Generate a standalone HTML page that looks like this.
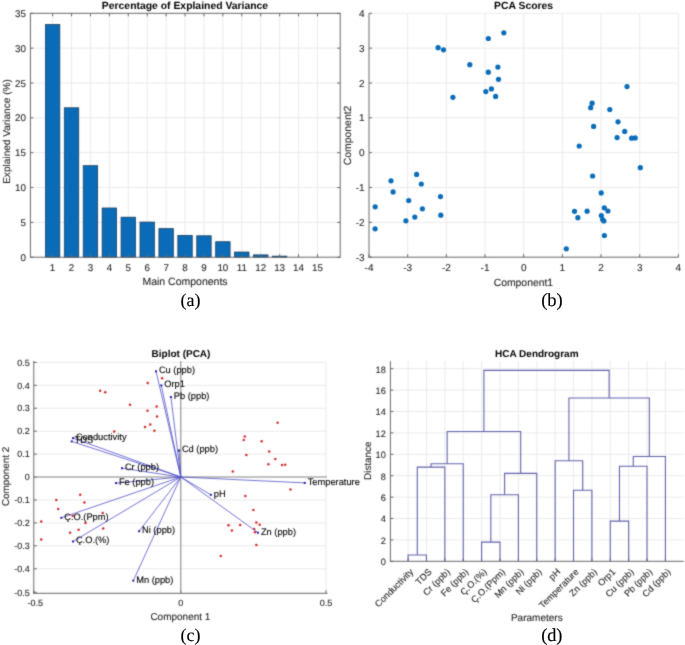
<!DOCTYPE html>
<html><head><meta charset="utf-8"><title>PCA / HCA figure</title>
<style>
html,body{margin:0;padding:0;background:#fff;}
body{width:685px;height:645px;overflow:hidden;font-family:"Liberation Sans", sans-serif;}
svg{display:block;will-change:transform;}
text{text-rendering:geometricPrecision;}
</style></head>
<body>
<svg width="685" height="645" viewBox="0 0 685 645">
<defs><filter id="soft" x="0" y="0" width="100%" height="100%" filterUnits="userSpaceOnUse" color-interpolation-filters="sRGB"><feConvolveMatrix order="3" kernelMatrix="1 3 1 3 16 3 1 3 1" edgeMode="duplicate" preserveAlpha="true"/></filter></defs>
<g filter="url(#soft)">
<rect width="685" height="645" fill="#fff"/>
<g id="pa">
<line x1="52.60" y1="13.30" x2="52.60" y2="257.20" stroke="#ebebeb" stroke-width="1"/>
<line x1="71.52" y1="13.30" x2="71.52" y2="257.20" stroke="#ebebeb" stroke-width="1"/>
<line x1="90.44" y1="13.30" x2="90.44" y2="257.20" stroke="#ebebeb" stroke-width="1"/>
<line x1="109.36" y1="13.30" x2="109.36" y2="257.20" stroke="#ebebeb" stroke-width="1"/>
<line x1="128.28" y1="13.30" x2="128.28" y2="257.20" stroke="#ebebeb" stroke-width="1"/>
<line x1="147.20" y1="13.30" x2="147.20" y2="257.20" stroke="#ebebeb" stroke-width="1"/>
<line x1="166.12" y1="13.30" x2="166.12" y2="257.20" stroke="#ebebeb" stroke-width="1"/>
<line x1="185.04" y1="13.30" x2="185.04" y2="257.20" stroke="#ebebeb" stroke-width="1"/>
<line x1="203.96" y1="13.30" x2="203.96" y2="257.20" stroke="#ebebeb" stroke-width="1"/>
<line x1="222.88" y1="13.30" x2="222.88" y2="257.20" stroke="#ebebeb" stroke-width="1"/>
<line x1="241.80" y1="13.30" x2="241.80" y2="257.20" stroke="#ebebeb" stroke-width="1"/>
<line x1="260.72" y1="13.30" x2="260.72" y2="257.20" stroke="#ebebeb" stroke-width="1"/>
<line x1="279.64" y1="13.30" x2="279.64" y2="257.20" stroke="#ebebeb" stroke-width="1"/>
<line x1="298.56" y1="13.30" x2="298.56" y2="257.20" stroke="#ebebeb" stroke-width="1"/>
<line x1="317.48" y1="13.30" x2="317.48" y2="257.20" stroke="#ebebeb" stroke-width="1"/>
<line x1="30.40" y1="222.36" x2="340.20" y2="222.36" stroke="#ebebeb" stroke-width="1"/>
<line x1="30.40" y1="187.52" x2="340.20" y2="187.52" stroke="#ebebeb" stroke-width="1"/>
<line x1="30.40" y1="152.68" x2="340.20" y2="152.68" stroke="#ebebeb" stroke-width="1"/>
<line x1="30.40" y1="117.84" x2="340.20" y2="117.84" stroke="#ebebeb" stroke-width="1"/>
<line x1="30.40" y1="83.00" x2="340.20" y2="83.00" stroke="#ebebeb" stroke-width="1"/>
<line x1="30.40" y1="48.16" x2="340.20" y2="48.16" stroke="#ebebeb" stroke-width="1"/>
<rect x="45.40" y="24.47" width="14.40" height="232.73" fill="#0a6cb8" stroke="#1d3d5c" stroke-width="0.8"/>
<rect x="64.32" y="107.81" width="14.40" height="149.39" fill="#0a6cb8" stroke="#1d3d5c" stroke-width="0.8"/>
<rect x="83.24" y="165.71" width="14.40" height="91.49" fill="#0a6cb8" stroke="#1d3d5c" stroke-width="0.8"/>
<rect x="102.16" y="208.01" width="14.40" height="49.19" fill="#0a6cb8" stroke="#1d3d5c" stroke-width="0.8"/>
<rect x="121.08" y="217.20" width="14.40" height="40.00" fill="#0a6cb8" stroke="#1d3d5c" stroke-width="0.8"/>
<rect x="140.00" y="222.08" width="14.40" height="35.12" fill="#0a6cb8" stroke="#1d3d5c" stroke-width="0.8"/>
<rect x="158.92" y="228.63" width="14.40" height="28.57" fill="#0a6cb8" stroke="#1d3d5c" stroke-width="0.8"/>
<rect x="177.84" y="235.39" width="14.40" height="21.81" fill="#0a6cb8" stroke="#1d3d5c" stroke-width="0.8"/>
<rect x="196.76" y="235.81" width="14.40" height="21.39" fill="#0a6cb8" stroke="#1d3d5c" stroke-width="0.8"/>
<rect x="215.68" y="241.73" width="14.40" height="15.47" fill="#0a6cb8" stroke="#1d3d5c" stroke-width="0.8"/>
<rect x="234.60" y="252.04" width="14.40" height="5.16" fill="#0a6cb8" stroke="#1d3d5c" stroke-width="0.8"/>
<rect x="253.52" y="254.90" width="14.40" height="2.30" fill="#0a6cb8" stroke="#1d3d5c" stroke-width="0.8"/>
<rect x="272.44" y="256.15" width="14.40" height="1.05" fill="#0a6cb8" stroke="#1d3d5c" stroke-width="0.8"/>
<rect x="30.4" y="13.3" width="309.80" height="243.90" fill="none" stroke="#686868" stroke-width="1"/>
<line x1="52.60" y1="257.20" x2="52.60" y2="254.20" stroke="#686868" stroke-width="1"/>
<line x1="52.60" y1="13.30" x2="52.60" y2="16.30" stroke="#686868" stroke-width="1"/>
<text x="52.60" y="271.41" font-size="9.8" fill="#262626" stroke="#262626" stroke-width="0.1" text-anchor="middle" font-weight="normal" font-family='"Liberation Sans", sans-serif'>1</text>
<line x1="71.52" y1="257.20" x2="71.52" y2="254.20" stroke="#686868" stroke-width="1"/>
<line x1="71.52" y1="13.30" x2="71.52" y2="16.30" stroke="#686868" stroke-width="1"/>
<text x="71.52" y="271.41" font-size="9.8" fill="#262626" stroke="#262626" stroke-width="0.1" text-anchor="middle" font-weight="normal" font-family='"Liberation Sans", sans-serif'>2</text>
<line x1="90.44" y1="257.20" x2="90.44" y2="254.20" stroke="#686868" stroke-width="1"/>
<line x1="90.44" y1="13.30" x2="90.44" y2="16.30" stroke="#686868" stroke-width="1"/>
<text x="90.44" y="271.41" font-size="9.8" fill="#262626" stroke="#262626" stroke-width="0.1" text-anchor="middle" font-weight="normal" font-family='"Liberation Sans", sans-serif'>3</text>
<line x1="109.36" y1="257.20" x2="109.36" y2="254.20" stroke="#686868" stroke-width="1"/>
<line x1="109.36" y1="13.30" x2="109.36" y2="16.30" stroke="#686868" stroke-width="1"/>
<text x="109.36" y="271.41" font-size="9.8" fill="#262626" stroke="#262626" stroke-width="0.1" text-anchor="middle" font-weight="normal" font-family='"Liberation Sans", sans-serif'>4</text>
<line x1="128.28" y1="257.20" x2="128.28" y2="254.20" stroke="#686868" stroke-width="1"/>
<line x1="128.28" y1="13.30" x2="128.28" y2="16.30" stroke="#686868" stroke-width="1"/>
<text x="128.28" y="271.41" font-size="9.8" fill="#262626" stroke="#262626" stroke-width="0.1" text-anchor="middle" font-weight="normal" font-family='"Liberation Sans", sans-serif'>5</text>
<line x1="147.20" y1="257.20" x2="147.20" y2="254.20" stroke="#686868" stroke-width="1"/>
<line x1="147.20" y1="13.30" x2="147.20" y2="16.30" stroke="#686868" stroke-width="1"/>
<text x="147.20" y="271.41" font-size="9.8" fill="#262626" stroke="#262626" stroke-width="0.1" text-anchor="middle" font-weight="normal" font-family='"Liberation Sans", sans-serif'>6</text>
<line x1="166.12" y1="257.20" x2="166.12" y2="254.20" stroke="#686868" stroke-width="1"/>
<line x1="166.12" y1="13.30" x2="166.12" y2="16.30" stroke="#686868" stroke-width="1"/>
<text x="166.12" y="271.41" font-size="9.8" fill="#262626" stroke="#262626" stroke-width="0.1" text-anchor="middle" font-weight="normal" font-family='"Liberation Sans", sans-serif'>7</text>
<line x1="185.04" y1="257.20" x2="185.04" y2="254.20" stroke="#686868" stroke-width="1"/>
<line x1="185.04" y1="13.30" x2="185.04" y2="16.30" stroke="#686868" stroke-width="1"/>
<text x="185.04" y="271.41" font-size="9.8" fill="#262626" stroke="#262626" stroke-width="0.1" text-anchor="middle" font-weight="normal" font-family='"Liberation Sans", sans-serif'>8</text>
<line x1="203.96" y1="257.20" x2="203.96" y2="254.20" stroke="#686868" stroke-width="1"/>
<line x1="203.96" y1="13.30" x2="203.96" y2="16.30" stroke="#686868" stroke-width="1"/>
<text x="203.96" y="271.41" font-size="9.8" fill="#262626" stroke="#262626" stroke-width="0.1" text-anchor="middle" font-weight="normal" font-family='"Liberation Sans", sans-serif'>9</text>
<line x1="222.88" y1="257.20" x2="222.88" y2="254.20" stroke="#686868" stroke-width="1"/>
<line x1="222.88" y1="13.30" x2="222.88" y2="16.30" stroke="#686868" stroke-width="1"/>
<text x="222.88" y="271.41" font-size="9.8" fill="#262626" stroke="#262626" stroke-width="0.1" text-anchor="middle" font-weight="normal" font-family='"Liberation Sans", sans-serif'>10</text>
<line x1="241.80" y1="257.20" x2="241.80" y2="254.20" stroke="#686868" stroke-width="1"/>
<line x1="241.80" y1="13.30" x2="241.80" y2="16.30" stroke="#686868" stroke-width="1"/>
<text x="241.80" y="271.41" font-size="9.8" fill="#262626" stroke="#262626" stroke-width="0.1" text-anchor="middle" font-weight="normal" font-family='"Liberation Sans", sans-serif'>11</text>
<line x1="260.72" y1="257.20" x2="260.72" y2="254.20" stroke="#686868" stroke-width="1"/>
<line x1="260.72" y1="13.30" x2="260.72" y2="16.30" stroke="#686868" stroke-width="1"/>
<text x="260.72" y="271.41" font-size="9.8" fill="#262626" stroke="#262626" stroke-width="0.1" text-anchor="middle" font-weight="normal" font-family='"Liberation Sans", sans-serif'>12</text>
<line x1="279.64" y1="257.20" x2="279.64" y2="254.20" stroke="#686868" stroke-width="1"/>
<line x1="279.64" y1="13.30" x2="279.64" y2="16.30" stroke="#686868" stroke-width="1"/>
<text x="279.64" y="271.41" font-size="9.8" fill="#262626" stroke="#262626" stroke-width="0.1" text-anchor="middle" font-weight="normal" font-family='"Liberation Sans", sans-serif'>13</text>
<line x1="298.56" y1="257.20" x2="298.56" y2="254.20" stroke="#686868" stroke-width="1"/>
<line x1="298.56" y1="13.30" x2="298.56" y2="16.30" stroke="#686868" stroke-width="1"/>
<text x="298.56" y="271.41" font-size="9.8" fill="#262626" stroke="#262626" stroke-width="0.1" text-anchor="middle" font-weight="normal" font-family='"Liberation Sans", sans-serif'>14</text>
<line x1="317.48" y1="257.20" x2="317.48" y2="254.20" stroke="#686868" stroke-width="1"/>
<line x1="317.48" y1="13.30" x2="317.48" y2="16.30" stroke="#686868" stroke-width="1"/>
<text x="317.48" y="271.41" font-size="9.8" fill="#262626" stroke="#262626" stroke-width="0.1" text-anchor="middle" font-weight="normal" font-family='"Liberation Sans", sans-serif'>15</text>
<line x1="30.40" y1="257.20" x2="33.40" y2="257.20" stroke="#686868" stroke-width="1"/>
<line x1="340.20" y1="257.20" x2="337.20" y2="257.20" stroke="#686868" stroke-width="1"/>
<text x="26.00" y="260.71" font-size="9.8" fill="#262626" stroke="#262626" stroke-width="0.1" text-anchor="end" font-weight="normal" font-family='"Liberation Sans", sans-serif'>0</text>
<line x1="30.40" y1="222.36" x2="33.40" y2="222.36" stroke="#686868" stroke-width="1"/>
<line x1="340.20" y1="222.36" x2="337.20" y2="222.36" stroke="#686868" stroke-width="1"/>
<text x="26.00" y="225.87" font-size="9.8" fill="#262626" stroke="#262626" stroke-width="0.1" text-anchor="end" font-weight="normal" font-family='"Liberation Sans", sans-serif'>5</text>
<line x1="30.40" y1="187.52" x2="33.40" y2="187.52" stroke="#686868" stroke-width="1"/>
<line x1="340.20" y1="187.52" x2="337.20" y2="187.52" stroke="#686868" stroke-width="1"/>
<text x="26.00" y="191.03" font-size="9.8" fill="#262626" stroke="#262626" stroke-width="0.1" text-anchor="end" font-weight="normal" font-family='"Liberation Sans", sans-serif'>10</text>
<line x1="30.40" y1="152.68" x2="33.40" y2="152.68" stroke="#686868" stroke-width="1"/>
<line x1="340.20" y1="152.68" x2="337.20" y2="152.68" stroke="#686868" stroke-width="1"/>
<text x="26.00" y="156.19" font-size="9.8" fill="#262626" stroke="#262626" stroke-width="0.1" text-anchor="end" font-weight="normal" font-family='"Liberation Sans", sans-serif'>15</text>
<line x1="30.40" y1="117.84" x2="33.40" y2="117.84" stroke="#686868" stroke-width="1"/>
<line x1="340.20" y1="117.84" x2="337.20" y2="117.84" stroke="#686868" stroke-width="1"/>
<text x="26.00" y="121.35" font-size="9.8" fill="#262626" stroke="#262626" stroke-width="0.1" text-anchor="end" font-weight="normal" font-family='"Liberation Sans", sans-serif'>20</text>
<line x1="30.40" y1="83.00" x2="33.40" y2="83.00" stroke="#686868" stroke-width="1"/>
<line x1="340.20" y1="83.00" x2="337.20" y2="83.00" stroke="#686868" stroke-width="1"/>
<text x="26.00" y="86.51" font-size="9.8" fill="#262626" stroke="#262626" stroke-width="0.1" text-anchor="end" font-weight="normal" font-family='"Liberation Sans", sans-serif'>25</text>
<line x1="30.40" y1="48.16" x2="33.40" y2="48.16" stroke="#686868" stroke-width="1"/>
<line x1="340.20" y1="48.16" x2="337.20" y2="48.16" stroke="#686868" stroke-width="1"/>
<text x="26.00" y="51.67" font-size="9.8" fill="#262626" stroke="#262626" stroke-width="0.1" text-anchor="end" font-weight="normal" font-family='"Liberation Sans", sans-serif'>30</text>
<line x1="30.40" y1="13.32" x2="33.40" y2="13.32" stroke="#686868" stroke-width="1"/>
<line x1="340.20" y1="13.32" x2="337.20" y2="13.32" stroke="#686868" stroke-width="1"/>
<text x="26.00" y="16.83" font-size="9.8" fill="#262626" stroke="#262626" stroke-width="0.1" text-anchor="end" font-weight="normal" font-family='"Liberation Sans", sans-serif'>35</text>
<text x="185.00" y="8.80" font-size="10.4" fill="#000" text-anchor="middle" font-weight="bold" font-family='"Liberation Sans", sans-serif'>Percentage of Explained Variance</text>
<text x="185.00" y="285.40" font-size="10.5" fill="#262626" stroke="#262626" stroke-width="0.1" text-anchor="middle" font-weight="normal" font-family='"Liberation Sans", sans-serif'>Main Components</text>
<text x="10.00" y="131.50" font-size="10.1" fill="#262626" stroke="#262626" stroke-width="0.1" text-anchor="middle" font-weight="normal" font-family='"Liberation Sans", sans-serif' transform="rotate(-90 10 131.5)">Explained Variance (%)</text>
</g>
<g id="pb">
<line x1="407.68" y1="13.30" x2="407.68" y2="257.20" stroke="#ebebeb" stroke-width="1"/>
<line x1="446.35" y1="13.30" x2="446.35" y2="257.20" stroke="#ebebeb" stroke-width="1"/>
<line x1="485.02" y1="13.30" x2="485.02" y2="257.20" stroke="#ebebeb" stroke-width="1"/>
<line x1="523.70" y1="13.30" x2="523.70" y2="257.20" stroke="#ebebeb" stroke-width="1"/>
<line x1="562.38" y1="13.30" x2="562.38" y2="257.20" stroke="#ebebeb" stroke-width="1"/>
<line x1="601.05" y1="13.30" x2="601.05" y2="257.20" stroke="#ebebeb" stroke-width="1"/>
<line x1="639.72" y1="13.30" x2="639.72" y2="257.20" stroke="#ebebeb" stroke-width="1"/>
<line x1="678.40" y1="13.30" x2="678.40" y2="257.20" stroke="#ebebeb" stroke-width="1"/>
<line x1="369.00" y1="222.36" x2="678.40" y2="222.36" stroke="#ebebeb" stroke-width="1"/>
<line x1="369.00" y1="187.51" x2="678.40" y2="187.51" stroke="#ebebeb" stroke-width="1"/>
<line x1="369.00" y1="152.67" x2="678.40" y2="152.67" stroke="#ebebeb" stroke-width="1"/>
<line x1="369.00" y1="117.83" x2="678.40" y2="117.83" stroke="#ebebeb" stroke-width="1"/>
<line x1="369.00" y1="82.99" x2="678.40" y2="82.99" stroke="#ebebeb" stroke-width="1"/>
<line x1="369.00" y1="48.14" x2="678.40" y2="48.14" stroke="#ebebeb" stroke-width="1"/>
<line x1="369.00" y1="13.30" x2="678.40" y2="13.30" stroke="#ebebeb" stroke-width="1"/>
<line x1="369.00" y1="13.30" x2="369.00" y2="257.70" stroke="#686868" stroke-width="1"/>
<line x1="368.50" y1="257.20" x2="678.40" y2="257.20" stroke="#686868" stroke-width="1"/>
<line x1="369.00" y1="257.20" x2="369.00" y2="254.20" stroke="#686868" stroke-width="1"/>
<text x="369.00" y="271.18" font-size="10.0" fill="#262626" stroke="#262626" stroke-width="0.1" text-anchor="middle" font-weight="normal" font-family='"Liberation Sans", sans-serif'>-4</text>
<line x1="407.68" y1="257.20" x2="407.68" y2="254.20" stroke="#686868" stroke-width="1"/>
<text x="407.68" y="271.18" font-size="10.0" fill="#262626" stroke="#262626" stroke-width="0.1" text-anchor="middle" font-weight="normal" font-family='"Liberation Sans", sans-serif'>-3</text>
<line x1="446.35" y1="257.20" x2="446.35" y2="254.20" stroke="#686868" stroke-width="1"/>
<text x="446.35" y="271.18" font-size="10.0" fill="#262626" stroke="#262626" stroke-width="0.1" text-anchor="middle" font-weight="normal" font-family='"Liberation Sans", sans-serif'>-2</text>
<line x1="485.02" y1="257.20" x2="485.02" y2="254.20" stroke="#686868" stroke-width="1"/>
<text x="485.02" y="271.18" font-size="10.0" fill="#262626" stroke="#262626" stroke-width="0.1" text-anchor="middle" font-weight="normal" font-family='"Liberation Sans", sans-serif'>-1</text>
<line x1="523.70" y1="257.20" x2="523.70" y2="254.20" stroke="#686868" stroke-width="1"/>
<text x="523.70" y="271.18" font-size="10.0" fill="#262626" stroke="#262626" stroke-width="0.1" text-anchor="middle" font-weight="normal" font-family='"Liberation Sans", sans-serif'>0</text>
<line x1="562.38" y1="257.20" x2="562.38" y2="254.20" stroke="#686868" stroke-width="1"/>
<text x="562.38" y="271.18" font-size="10.0" fill="#262626" stroke="#262626" stroke-width="0.1" text-anchor="middle" font-weight="normal" font-family='"Liberation Sans", sans-serif'>1</text>
<line x1="601.05" y1="257.20" x2="601.05" y2="254.20" stroke="#686868" stroke-width="1"/>
<text x="601.05" y="271.18" font-size="10.0" fill="#262626" stroke="#262626" stroke-width="0.1" text-anchor="middle" font-weight="normal" font-family='"Liberation Sans", sans-serif'>2</text>
<line x1="639.72" y1="257.20" x2="639.72" y2="254.20" stroke="#686868" stroke-width="1"/>
<text x="639.72" y="271.18" font-size="10.0" fill="#262626" stroke="#262626" stroke-width="0.1" text-anchor="middle" font-weight="normal" font-family='"Liberation Sans", sans-serif'>3</text>
<line x1="678.40" y1="257.20" x2="678.40" y2="254.20" stroke="#686868" stroke-width="1"/>
<text x="678.40" y="271.18" font-size="10.0" fill="#262626" stroke="#262626" stroke-width="0.1" text-anchor="middle" font-weight="normal" font-family='"Liberation Sans", sans-serif'>4</text>
<line x1="369.00" y1="257.20" x2="372.00" y2="257.20" stroke="#686868" stroke-width="1"/>
<text x="364.60" y="260.78" font-size="10.0" fill="#262626" stroke="#262626" stroke-width="0.1" text-anchor="end" font-weight="normal" font-family='"Liberation Sans", sans-serif'>-3</text>
<line x1="369.00" y1="222.36" x2="372.00" y2="222.36" stroke="#686868" stroke-width="1"/>
<text x="364.60" y="225.94" font-size="10.0" fill="#262626" stroke="#262626" stroke-width="0.1" text-anchor="end" font-weight="normal" font-family='"Liberation Sans", sans-serif'>-2</text>
<line x1="369.00" y1="187.51" x2="372.00" y2="187.51" stroke="#686868" stroke-width="1"/>
<text x="364.60" y="191.09" font-size="10.0" fill="#262626" stroke="#262626" stroke-width="0.1" text-anchor="end" font-weight="normal" font-family='"Liberation Sans", sans-serif'>-1</text>
<line x1="369.00" y1="152.67" x2="372.00" y2="152.67" stroke="#686868" stroke-width="1"/>
<text x="364.60" y="156.25" font-size="10.0" fill="#262626" stroke="#262626" stroke-width="0.1" text-anchor="end" font-weight="normal" font-family='"Liberation Sans", sans-serif'>0</text>
<line x1="369.00" y1="117.83" x2="372.00" y2="117.83" stroke="#686868" stroke-width="1"/>
<text x="364.60" y="121.41" font-size="10.0" fill="#262626" stroke="#262626" stroke-width="0.1" text-anchor="end" font-weight="normal" font-family='"Liberation Sans", sans-serif'>1</text>
<line x1="369.00" y1="82.99" x2="372.00" y2="82.99" stroke="#686868" stroke-width="1"/>
<text x="364.60" y="86.57" font-size="10.0" fill="#262626" stroke="#262626" stroke-width="0.1" text-anchor="end" font-weight="normal" font-family='"Liberation Sans", sans-serif'>2</text>
<line x1="369.00" y1="48.14" x2="372.00" y2="48.14" stroke="#686868" stroke-width="1"/>
<text x="364.60" y="51.72" font-size="10.0" fill="#262626" stroke="#262626" stroke-width="0.1" text-anchor="end" font-weight="normal" font-family='"Liberation Sans", sans-serif'>3</text>
<line x1="369.00" y1="13.30" x2="372.00" y2="13.30" stroke="#686868" stroke-width="1"/>
<text x="364.60" y="16.88" font-size="10.0" fill="#262626" stroke="#262626" stroke-width="0.1" text-anchor="end" font-weight="normal" font-family='"Liberation Sans", sans-serif'>4</text>
<circle cx="438.1" cy="47.7" r="2.6" fill="#0a6cb8"/>
<circle cx="443.5" cy="49.8" r="2.6" fill="#0a6cb8"/>
<circle cx="488.3" cy="38.5" r="2.6" fill="#0a6cb8"/>
<circle cx="503.8" cy="32.8" r="2.6" fill="#0a6cb8"/>
<circle cx="469.8" cy="64.7" r="2.6" fill="#0a6cb8"/>
<circle cx="497.9" cy="67.1" r="2.6" fill="#0a6cb8"/>
<circle cx="488.3" cy="72.2" r="2.6" fill="#0a6cb8"/>
<circle cx="498.5" cy="79.3" r="2.6" fill="#0a6cb8"/>
<circle cx="491.4" cy="88.9" r="2.6" fill="#0a6cb8"/>
<circle cx="485.8" cy="91.6" r="2.6" fill="#0a6cb8"/>
<circle cx="495.6" cy="96.4" r="2.6" fill="#0a6cb8"/>
<circle cx="452.9" cy="97.3" r="2.6" fill="#0a6cb8"/>
<circle cx="416.6" cy="174.4" r="2.6" fill="#0a6cb8"/>
<circle cx="391.0" cy="180.8" r="2.6" fill="#0a6cb8"/>
<circle cx="421.3" cy="184.0" r="2.6" fill="#0a6cb8"/>
<circle cx="393.1" cy="191.9" r="2.6" fill="#0a6cb8"/>
<circle cx="440.5" cy="196.6" r="2.6" fill="#0a6cb8"/>
<circle cx="408.7" cy="200.5" r="2.6" fill="#0a6cb8"/>
<circle cx="375.2" cy="206.8" r="2.6" fill="#0a6cb8"/>
<circle cx="422.4" cy="208.8" r="2.6" fill="#0a6cb8"/>
<circle cx="440.8" cy="215.2" r="2.6" fill="#0a6cb8"/>
<circle cx="414.8" cy="217.1" r="2.6" fill="#0a6cb8"/>
<circle cx="405.9" cy="220.8" r="2.6" fill="#0a6cb8"/>
<circle cx="375.1" cy="228.8" r="2.6" fill="#0a6cb8"/>
<circle cx="627.0" cy="86.6" r="2.6" fill="#0a6cb8"/>
<circle cx="592.1" cy="103.2" r="2.6" fill="#0a6cb8"/>
<circle cx="590.7" cy="107.7" r="2.6" fill="#0a6cb8"/>
<circle cx="609.8" cy="109.5" r="2.6" fill="#0a6cb8"/>
<circle cx="618.0" cy="121.8" r="2.6" fill="#0a6cb8"/>
<circle cx="593.6" cy="126.4" r="2.6" fill="#0a6cb8"/>
<circle cx="624.7" cy="131.4" r="2.6" fill="#0a6cb8"/>
<circle cx="617.1" cy="137.6" r="2.6" fill="#0a6cb8"/>
<circle cx="631.6" cy="138.2" r="2.6" fill="#0a6cb8"/>
<circle cx="635.2" cy="137.9" r="2.6" fill="#0a6cb8"/>
<circle cx="579.2" cy="146.0" r="2.6" fill="#0a6cb8"/>
<circle cx="640.3" cy="167.7" r="2.6" fill="#0a6cb8"/>
<circle cx="592.6" cy="176.0" r="2.6" fill="#0a6cb8"/>
<circle cx="601.2" cy="192.9" r="2.6" fill="#0a6cb8"/>
<circle cx="604.3" cy="207.8" r="2.6" fill="#0a6cb8"/>
<circle cx="607.9" cy="211.0" r="2.6" fill="#0a6cb8"/>
<circle cx="574.5" cy="211.3" r="2.6" fill="#0a6cb8"/>
<circle cx="587.1" cy="211.2" r="2.6" fill="#0a6cb8"/>
<circle cx="601.3" cy="215.5" r="2.6" fill="#0a6cb8"/>
<circle cx="577.9" cy="217.7" r="2.6" fill="#0a6cb8"/>
<circle cx="602.6" cy="219.5" r="2.6" fill="#0a6cb8"/>
<circle cx="603.9" cy="221.0" r="2.6" fill="#0a6cb8"/>
<circle cx="604.4" cy="235.5" r="2.6" fill="#0a6cb8"/>
<circle cx="566.3" cy="248.8" r="2.6" fill="#0a6cb8"/>
<text x="523.60" y="8.80" font-size="10.4" fill="#000" text-anchor="middle" font-weight="bold" font-family='"Liberation Sans", sans-serif'>PCA Scores</text>
<text x="523.40" y="285.60" font-size="10.4" fill="#262626" stroke="#262626" stroke-width="0.1" text-anchor="middle" font-weight="normal" font-family='"Liberation Sans", sans-serif'>Component1</text>
<text x="351.20" y="135.40" font-size="10.4" fill="#262626" stroke="#262626" stroke-width="0.1" text-anchor="middle" font-weight="normal" font-family='"Liberation Sans", sans-serif' transform="rotate(-90 351.2 135.4)">Component2</text>
</g>
<g id="pc">
<line x1="33.80" y1="568.77" x2="326.00" y2="568.77" stroke="#ebebeb" stroke-width="1"/>
<line x1="33.80" y1="545.84" x2="326.00" y2="545.84" stroke="#ebebeb" stroke-width="1"/>
<line x1="33.80" y1="522.91" x2="326.00" y2="522.91" stroke="#ebebeb" stroke-width="1"/>
<line x1="33.80" y1="499.98" x2="326.00" y2="499.98" stroke="#ebebeb" stroke-width="1"/>
<line x1="33.80" y1="477.05" x2="326.00" y2="477.05" stroke="#ebebeb" stroke-width="1"/>
<line x1="33.80" y1="454.12" x2="326.00" y2="454.12" stroke="#ebebeb" stroke-width="1"/>
<line x1="33.80" y1="431.19" x2="326.00" y2="431.19" stroke="#ebebeb" stroke-width="1"/>
<line x1="33.80" y1="408.26" x2="326.00" y2="408.26" stroke="#ebebeb" stroke-width="1"/>
<line x1="33.80" y1="385.33" x2="326.00" y2="385.33" stroke="#ebebeb" stroke-width="1"/>
<line x1="33.80" y1="362.40" x2="326.00" y2="362.40" stroke="#ebebeb" stroke-width="1"/>
<line x1="326.00" y1="362.40" x2="326.00" y2="593.30" stroke="#ebebeb" stroke-width="1"/>
<line x1="33.80" y1="360.90" x2="33.80" y2="593.80" stroke="#686868" stroke-width="1"/>
<line x1="33.30" y1="593.30" x2="327.50" y2="593.30" stroke="#686868" stroke-width="1"/>
<line x1="33.80" y1="592.30" x2="36.80" y2="592.30" stroke="#686868" stroke-width="1"/>
<text x="29.70" y="595.52" font-size="9.0" fill="#262626" stroke="#262626" stroke-width="0.1" text-anchor="end" font-weight="normal" font-family='"Liberation Sans", sans-serif'>-0.5</text>
<line x1="33.80" y1="568.77" x2="36.80" y2="568.77" stroke="#686868" stroke-width="1"/>
<text x="29.70" y="571.99" font-size="9.0" fill="#262626" stroke="#262626" stroke-width="0.1" text-anchor="end" font-weight="normal" font-family='"Liberation Sans", sans-serif'>-0.4</text>
<line x1="33.80" y1="545.84" x2="36.80" y2="545.84" stroke="#686868" stroke-width="1"/>
<text x="29.70" y="549.06" font-size="9.0" fill="#262626" stroke="#262626" stroke-width="0.1" text-anchor="end" font-weight="normal" font-family='"Liberation Sans", sans-serif'>-0.3</text>
<line x1="33.80" y1="522.91" x2="36.80" y2="522.91" stroke="#686868" stroke-width="1"/>
<text x="29.70" y="526.13" font-size="9.0" fill="#262626" stroke="#262626" stroke-width="0.1" text-anchor="end" font-weight="normal" font-family='"Liberation Sans", sans-serif'>-0.2</text>
<line x1="33.80" y1="499.98" x2="36.80" y2="499.98" stroke="#686868" stroke-width="1"/>
<text x="29.70" y="503.20" font-size="9.0" fill="#262626" stroke="#262626" stroke-width="0.1" text-anchor="end" font-weight="normal" font-family='"Liberation Sans", sans-serif'>-0.1</text>
<line x1="33.80" y1="477.05" x2="36.80" y2="477.05" stroke="#686868" stroke-width="1"/>
<text x="29.70" y="480.27" font-size="9.0" fill="#262626" stroke="#262626" stroke-width="0.1" text-anchor="end" font-weight="normal" font-family='"Liberation Sans", sans-serif'>0</text>
<line x1="33.80" y1="454.12" x2="36.80" y2="454.12" stroke="#686868" stroke-width="1"/>
<text x="29.70" y="457.34" font-size="9.0" fill="#262626" stroke="#262626" stroke-width="0.1" text-anchor="end" font-weight="normal" font-family='"Liberation Sans", sans-serif'>0.1</text>
<line x1="33.80" y1="431.19" x2="36.80" y2="431.19" stroke="#686868" stroke-width="1"/>
<text x="29.70" y="434.41" font-size="9.0" fill="#262626" stroke="#262626" stroke-width="0.1" text-anchor="end" font-weight="normal" font-family='"Liberation Sans", sans-serif'>0.2</text>
<line x1="33.80" y1="408.26" x2="36.80" y2="408.26" stroke="#686868" stroke-width="1"/>
<text x="29.70" y="411.48" font-size="9.0" fill="#262626" stroke="#262626" stroke-width="0.1" text-anchor="end" font-weight="normal" font-family='"Liberation Sans", sans-serif'>0.3</text>
<line x1="33.80" y1="385.33" x2="36.80" y2="385.33" stroke="#686868" stroke-width="1"/>
<text x="29.70" y="388.55" font-size="9.0" fill="#262626" stroke="#262626" stroke-width="0.1" text-anchor="end" font-weight="normal" font-family='"Liberation Sans", sans-serif'>0.4</text>
<line x1="33.80" y1="362.40" x2="36.80" y2="362.40" stroke="#686868" stroke-width="1"/>
<text x="29.70" y="365.62" font-size="9.0" fill="#262626" stroke="#262626" stroke-width="0.1" text-anchor="end" font-weight="normal" font-family='"Liberation Sans", sans-serif'>0.5</text>
<line x1="33.80" y1="593.30" x2="33.80" y2="590.30" stroke="#686868" stroke-width="1"/>
<text x="35.30" y="606.02" font-size="9.0" fill="#262626" stroke="#262626" stroke-width="0.1" text-anchor="middle" font-weight="normal" font-family='"Liberation Sans", sans-serif'>-0.5</text>
<line x1="180.80" y1="593.30" x2="180.80" y2="590.30" stroke="#686868" stroke-width="1"/>
<text x="180.80" y="606.02" font-size="9.0" fill="#262626" stroke="#262626" stroke-width="0.1" text-anchor="middle" font-weight="normal" font-family='"Liberation Sans", sans-serif'>0</text>
<line x1="326.00" y1="593.30" x2="326.00" y2="590.30" stroke="#686868" stroke-width="1"/>
<text x="326.00" y="606.02" font-size="9.0" fill="#262626" stroke="#262626" stroke-width="0.1" text-anchor="middle" font-weight="normal" font-family='"Liberation Sans", sans-serif'>0.5</text>
<line x1="180.80" y1="360.90" x2="180.80" y2="593.30" stroke="#8a8a8a" stroke-width="1.1"/>
<line x1="33.80" y1="477.00" x2="327.00" y2="477.00" stroke="#8a8a8a" stroke-width="1.1"/>
<circle cx="162.1" cy="378.2" r="1.25" fill="#d42828"/>
<circle cx="147.7" cy="382.9" r="1.25" fill="#d42828"/>
<circle cx="100.2" cy="390.7" r="1.25" fill="#d42828"/>
<circle cx="105.2" cy="392.3" r="1.25" fill="#d42828"/>
<circle cx="130.0" cy="404.8" r="1.25" fill="#d42828"/>
<circle cx="156.6" cy="406.4" r="1.25" fill="#d42828"/>
<circle cx="147.5" cy="410.8" r="1.25" fill="#d42828"/>
<circle cx="157.0" cy="416.6" r="1.25" fill="#d42828"/>
<circle cx="150.3" cy="424.5" r="1.25" fill="#d42828"/>
<circle cx="145.0" cy="426.9" r="1.25" fill="#d42828"/>
<circle cx="154.4" cy="430.8" r="1.25" fill="#d42828"/>
<circle cx="114.2" cy="431.4" r="1.25" fill="#d42828"/>
<circle cx="80.2" cy="494.8" r="1.25" fill="#d42828"/>
<circle cx="56.3" cy="500.1" r="1.25" fill="#d42828"/>
<circle cx="84.4" cy="502.5" r="1.25" fill="#d42828"/>
<circle cx="58.2" cy="509.0" r="1.25" fill="#d42828"/>
<circle cx="102.7" cy="513.0" r="1.25" fill="#d42828"/>
<circle cx="72.7" cy="515.7" r="1.25" fill="#d42828"/>
<circle cx="41.2" cy="521.5" r="1.25" fill="#d42828"/>
<circle cx="85.5" cy="523.1" r="1.25" fill="#d42828"/>
<circle cx="78.6" cy="529.8" r="1.25" fill="#d42828"/>
<circle cx="103.2" cy="528.4" r="1.25" fill="#d42828"/>
<circle cx="70.1" cy="532.7" r="1.25" fill="#d42828"/>
<circle cx="41.2" cy="539.6" r="1.25" fill="#d42828"/>
<circle cx="277.6" cy="422.7" r="1.25" fill="#d42828"/>
<circle cx="244.8" cy="436.4" r="1.25" fill="#d42828"/>
<circle cx="243.7" cy="440.1" r="1.25" fill="#d42828"/>
<circle cx="261.7" cy="441.2" r="1.25" fill="#d42828"/>
<circle cx="269.2" cy="451.5" r="1.25" fill="#d42828"/>
<circle cx="246.4" cy="455.0" r="1.25" fill="#d42828"/>
<circle cx="275.3" cy="459.0" r="1.25" fill="#d42828"/>
<circle cx="268.4" cy="464.3" r="1.25" fill="#d42828"/>
<circle cx="282.1" cy="465.0" r="1.25" fill="#d42828"/>
<circle cx="285.2" cy="464.8" r="1.25" fill="#d42828"/>
<circle cx="232.8" cy="471.4" r="1.25" fill="#d42828"/>
<circle cx="290.5" cy="489.5" r="1.25" fill="#d42828"/>
<circle cx="245.3" cy="496.1" r="1.25" fill="#d42828"/>
<circle cx="253.4" cy="510.1" r="1.25" fill="#d42828"/>
<circle cx="256.4" cy="522.4" r="1.25" fill="#d42828"/>
<circle cx="259.7" cy="524.8" r="1.25" fill="#d42828"/>
<circle cx="228.5" cy="525.2" r="1.25" fill="#d42828"/>
<circle cx="240.1" cy="525.0" r="1.25" fill="#d42828"/>
<circle cx="231.9" cy="530.5" r="1.25" fill="#d42828"/>
<circle cx="254.1" cy="529.1" r="1.25" fill="#d42828"/>
<circle cx="255.0" cy="532.2" r="1.25" fill="#d42828"/>
<circle cx="256.4" cy="545.0" r="1.25" fill="#d42828"/>
<circle cx="220.8" cy="556.0" r="1.25" fill="#d42828"/>
<line x1="180.80" y1="477.00" x2="156.00" y2="371.30" stroke="#5050cc" stroke-width="0.8"/>
<line x1="180.80" y1="477.00" x2="161.30" y2="385.40" stroke="#5050cc" stroke-width="0.8"/>
<line x1="180.80" y1="477.00" x2="170.90" y2="397.00" stroke="#5050cc" stroke-width="0.8"/>
<line x1="180.80" y1="477.00" x2="179.00" y2="450.50" stroke="#5050cc" stroke-width="0.8"/>
<line x1="180.80" y1="477.00" x2="73.00" y2="438.10" stroke="#5050cc" stroke-width="0.8"/>
<line x1="180.80" y1="477.00" x2="71.70" y2="441.40" stroke="#5050cc" stroke-width="0.8"/>
<line x1="180.80" y1="477.00" x2="122.00" y2="468.20" stroke="#5050cc" stroke-width="0.8"/>
<line x1="180.80" y1="477.00" x2="116.00" y2="483.10" stroke="#5050cc" stroke-width="0.8"/>
<line x1="180.80" y1="477.00" x2="61.30" y2="517.80" stroke="#5050cc" stroke-width="0.8"/>
<line x1="180.80" y1="477.00" x2="73.00" y2="541.50" stroke="#5050cc" stroke-width="0.8"/>
<line x1="180.80" y1="477.00" x2="139.10" y2="531.20" stroke="#5050cc" stroke-width="0.8"/>
<line x1="180.80" y1="477.00" x2="133.30" y2="580.70" stroke="#5050cc" stroke-width="0.8"/>
<line x1="180.80" y1="477.00" x2="210.90" y2="494.80" stroke="#5050cc" stroke-width="0.8"/>
<line x1="180.80" y1="477.00" x2="258.00" y2="532.70" stroke="#5050cc" stroke-width="0.8"/>
<line x1="180.80" y1="477.00" x2="304.80" y2="482.90" stroke="#5050cc" stroke-width="0.8"/>
<rect x="155.0" y="370.3" width="2.0" height="2.0" fill="#2020b0"/>
<text x="158.90" y="373.13" font-size="9.3" fill="#000" stroke="#000" stroke-width="0.1" text-anchor="start" font-weight="normal" font-family='"Liberation Sans", sans-serif'>Cu (ppb)</text>
<rect x="160.3" y="384.4" width="2.0" height="2.0" fill="#2020b0"/>
<text x="164.20" y="387.23" font-size="9.3" fill="#000" stroke="#000" stroke-width="0.1" text-anchor="start" font-weight="normal" font-family='"Liberation Sans", sans-serif'>Orp1</text>
<rect x="169.9" y="396.0" width="2.0" height="2.0" fill="#2020b0"/>
<text x="173.80" y="398.83" font-size="9.3" fill="#000" stroke="#000" stroke-width="0.1" text-anchor="start" font-weight="normal" font-family='"Liberation Sans", sans-serif'>Pb (ppb)</text>
<rect x="178.0" y="449.5" width="2.0" height="2.0" fill="#2020b0"/>
<text x="181.90" y="452.33" font-size="9.3" fill="#000" stroke="#000" stroke-width="0.1" text-anchor="start" font-weight="normal" font-family='"Liberation Sans", sans-serif'>Cd (ppb)</text>
<rect x="72.0" y="437.1" width="2.0" height="2.0" fill="#2020b0"/>
<text x="75.90" y="439.93" font-size="9.3" fill="#000" stroke="#000" stroke-width="0.1" text-anchor="start" font-weight="normal" font-family='"Liberation Sans", sans-serif'>Conductivity</text>
<rect x="70.7" y="440.4" width="2.0" height="2.0" fill="#2020b0"/>
<text x="74.60" y="443.23" font-size="9.3" fill="#000" stroke="#000" stroke-width="0.1" text-anchor="start" font-weight="normal" font-family='"Liberation Sans", sans-serif'>TDS</text>
<rect x="121.0" y="467.2" width="2.0" height="2.0" fill="#2020b0"/>
<text x="124.90" y="470.03" font-size="9.3" fill="#000" stroke="#000" stroke-width="0.1" text-anchor="start" font-weight="normal" font-family='"Liberation Sans", sans-serif'>Cr (ppb)</text>
<rect x="115.0" y="482.1" width="2.0" height="2.0" fill="#2020b0"/>
<text x="118.90" y="484.93" font-size="9.3" fill="#000" stroke="#000" stroke-width="0.1" text-anchor="start" font-weight="normal" font-family='"Liberation Sans", sans-serif'>Fe (ppb)</text>
<rect x="60.3" y="516.8" width="2.0" height="2.0" fill="#2020b0"/>
<text x="64.20" y="519.63" font-size="9.3" fill="#000" stroke="#000" stroke-width="0.1" text-anchor="start" font-weight="normal" font-family='"Liberation Sans", sans-serif'>Ç.O.(Ppm)</text>
<rect x="72.0" y="540.5" width="2.0" height="2.0" fill="#2020b0"/>
<text x="75.90" y="543.33" font-size="9.3" fill="#000" stroke="#000" stroke-width="0.1" text-anchor="start" font-weight="normal" font-family='"Liberation Sans", sans-serif'>Ç.O.(%)</text>
<rect x="138.1" y="530.2" width="2.0" height="2.0" fill="#2020b0"/>
<text x="142.00" y="533.03" font-size="9.3" fill="#000" stroke="#000" stroke-width="0.1" text-anchor="start" font-weight="normal" font-family='"Liberation Sans", sans-serif'>Ni (ppb)</text>
<rect x="132.3" y="579.7" width="2.0" height="2.0" fill="#2020b0"/>
<text x="136.20" y="582.53" font-size="9.3" fill="#000" stroke="#000" stroke-width="0.1" text-anchor="start" font-weight="normal" font-family='"Liberation Sans", sans-serif'>Mn (ppb)</text>
<rect x="209.9" y="493.8" width="2.0" height="2.0" fill="#2020b0"/>
<text x="213.80" y="496.63" font-size="9.3" fill="#000" stroke="#000" stroke-width="0.1" text-anchor="start" font-weight="normal" font-family='"Liberation Sans", sans-serif'>pH</text>
<rect x="257.0" y="531.7" width="2.0" height="2.0" fill="#2020b0"/>
<text x="260.90" y="534.53" font-size="9.3" fill="#000" stroke="#000" stroke-width="0.1" text-anchor="start" font-weight="normal" font-family='"Liberation Sans", sans-serif'>Zn (ppb)</text>
<rect x="303.8" y="481.9" width="2.0" height="2.0" fill="#2020b0"/>
<text x="307.70" y="484.73" font-size="9.3" fill="#000" stroke="#000" stroke-width="0.1" text-anchor="start" font-weight="normal" font-family='"Liberation Sans", sans-serif'>Temperature</text>
<text x="181.00" y="356.90" font-size="10.0" fill="#000" text-anchor="middle" font-weight="bold" font-family='"Liberation Sans", sans-serif'>Biplot (PCA)</text>
<text x="180.40" y="619.90" font-size="10.0" fill="#262626" stroke="#262626" stroke-width="0.1" text-anchor="middle" font-weight="normal" font-family='"Liberation Sans", sans-serif'>Component 1</text>
<text x="9.30" y="476.40" font-size="9.9" fill="#262626" stroke="#262626" stroke-width="0.1" text-anchor="middle" font-weight="normal" font-family='"Liberation Sans", sans-serif' transform="rotate(-90 9.3 476.4)">Component 2</text>
</g>
<g id="pd">
<line x1="408.10" y1="361.10" x2="408.10" y2="561.30" stroke="#ebebeb" stroke-width="1"/>
<line x1="426.48" y1="361.10" x2="426.48" y2="561.30" stroke="#ebebeb" stroke-width="1"/>
<line x1="444.86" y1="361.10" x2="444.86" y2="561.30" stroke="#ebebeb" stroke-width="1"/>
<line x1="463.24" y1="361.10" x2="463.24" y2="561.30" stroke="#ebebeb" stroke-width="1"/>
<line x1="481.62" y1="361.10" x2="481.62" y2="561.30" stroke="#ebebeb" stroke-width="1"/>
<line x1="500.00" y1="361.10" x2="500.00" y2="561.30" stroke="#ebebeb" stroke-width="1"/>
<line x1="518.38" y1="361.10" x2="518.38" y2="561.30" stroke="#ebebeb" stroke-width="1"/>
<line x1="536.76" y1="361.10" x2="536.76" y2="561.30" stroke="#ebebeb" stroke-width="1"/>
<line x1="555.14" y1="361.10" x2="555.14" y2="561.30" stroke="#ebebeb" stroke-width="1"/>
<line x1="573.52" y1="361.10" x2="573.52" y2="561.30" stroke="#ebebeb" stroke-width="1"/>
<line x1="591.90" y1="361.10" x2="591.90" y2="561.30" stroke="#ebebeb" stroke-width="1"/>
<line x1="610.28" y1="361.10" x2="610.28" y2="561.30" stroke="#ebebeb" stroke-width="1"/>
<line x1="628.66" y1="361.10" x2="628.66" y2="561.30" stroke="#ebebeb" stroke-width="1"/>
<line x1="647.04" y1="361.10" x2="647.04" y2="561.30" stroke="#ebebeb" stroke-width="1"/>
<line x1="665.42" y1="361.10" x2="665.42" y2="561.30" stroke="#ebebeb" stroke-width="1"/>
<line x1="390.40" y1="539.90" x2="683.80" y2="539.90" stroke="#ebebeb" stroke-width="1"/>
<line x1="390.40" y1="518.50" x2="683.80" y2="518.50" stroke="#ebebeb" stroke-width="1"/>
<line x1="390.40" y1="497.10" x2="683.80" y2="497.10" stroke="#ebebeb" stroke-width="1"/>
<line x1="390.40" y1="475.70" x2="683.80" y2="475.70" stroke="#ebebeb" stroke-width="1"/>
<line x1="390.40" y1="454.30" x2="683.80" y2="454.30" stroke="#ebebeb" stroke-width="1"/>
<line x1="390.40" y1="432.90" x2="683.80" y2="432.90" stroke="#ebebeb" stroke-width="1"/>
<line x1="390.40" y1="411.50" x2="683.80" y2="411.50" stroke="#ebebeb" stroke-width="1"/>
<line x1="390.40" y1="390.10" x2="683.80" y2="390.10" stroke="#ebebeb" stroke-width="1"/>
<line x1="390.40" y1="368.70" x2="683.80" y2="368.70" stroke="#ebebeb" stroke-width="1"/>
<line x1="390.40" y1="361.10" x2="390.40" y2="561.80" stroke="#686868" stroke-width="1"/>
<line x1="389.90" y1="561.30" x2="683.80" y2="561.30" stroke="#686868" stroke-width="1"/>
<line x1="390.40" y1="561.30" x2="393.40" y2="561.30" stroke="#686868" stroke-width="1"/>
<text x="385.80" y="565.19" font-size="9.2" fill="#262626" stroke="#262626" stroke-width="0.1" text-anchor="end" font-weight="normal" font-family='"Liberation Sans", sans-serif'>0</text>
<line x1="390.40" y1="539.90" x2="393.40" y2="539.90" stroke="#686868" stroke-width="1"/>
<text x="385.80" y="543.79" font-size="9.2" fill="#262626" stroke="#262626" stroke-width="0.1" text-anchor="end" font-weight="normal" font-family='"Liberation Sans", sans-serif'>2</text>
<line x1="390.40" y1="518.50" x2="393.40" y2="518.50" stroke="#686868" stroke-width="1"/>
<text x="385.80" y="522.39" font-size="9.2" fill="#262626" stroke="#262626" stroke-width="0.1" text-anchor="end" font-weight="normal" font-family='"Liberation Sans", sans-serif'>4</text>
<line x1="390.40" y1="497.10" x2="393.40" y2="497.10" stroke="#686868" stroke-width="1"/>
<text x="385.80" y="500.99" font-size="9.2" fill="#262626" stroke="#262626" stroke-width="0.1" text-anchor="end" font-weight="normal" font-family='"Liberation Sans", sans-serif'>6</text>
<line x1="390.40" y1="475.70" x2="393.40" y2="475.70" stroke="#686868" stroke-width="1"/>
<text x="385.80" y="479.59" font-size="9.2" fill="#262626" stroke="#262626" stroke-width="0.1" text-anchor="end" font-weight="normal" font-family='"Liberation Sans", sans-serif'>8</text>
<line x1="390.40" y1="454.30" x2="393.40" y2="454.30" stroke="#686868" stroke-width="1"/>
<text x="385.80" y="458.19" font-size="9.2" fill="#262626" stroke="#262626" stroke-width="0.1" text-anchor="end" font-weight="normal" font-family='"Liberation Sans", sans-serif'>10</text>
<line x1="390.40" y1="432.90" x2="393.40" y2="432.90" stroke="#686868" stroke-width="1"/>
<text x="385.80" y="436.79" font-size="9.2" fill="#262626" stroke="#262626" stroke-width="0.1" text-anchor="end" font-weight="normal" font-family='"Liberation Sans", sans-serif'>12</text>
<line x1="390.40" y1="411.50" x2="393.40" y2="411.50" stroke="#686868" stroke-width="1"/>
<text x="385.80" y="415.39" font-size="9.2" fill="#262626" stroke="#262626" stroke-width="0.1" text-anchor="end" font-weight="normal" font-family='"Liberation Sans", sans-serif'>14</text>
<line x1="390.40" y1="390.10" x2="393.40" y2="390.10" stroke="#686868" stroke-width="1"/>
<text x="385.80" y="393.99" font-size="9.2" fill="#262626" stroke="#262626" stroke-width="0.1" text-anchor="end" font-weight="normal" font-family='"Liberation Sans", sans-serif'>16</text>
<line x1="390.40" y1="368.70" x2="393.40" y2="368.70" stroke="#686868" stroke-width="1"/>
<text x="385.80" y="372.59" font-size="9.2" fill="#262626" stroke="#262626" stroke-width="0.1" text-anchor="end" font-weight="normal" font-family='"Liberation Sans", sans-serif'>18</text>
<line x1="408.10" y1="561.30" x2="408.10" y2="558.30" stroke="#686868" stroke-width="1"/>
<line x1="426.48" y1="561.30" x2="426.48" y2="558.30" stroke="#686868" stroke-width="1"/>
<line x1="444.86" y1="561.30" x2="444.86" y2="558.30" stroke="#686868" stroke-width="1"/>
<line x1="463.24" y1="561.30" x2="463.24" y2="558.30" stroke="#686868" stroke-width="1"/>
<line x1="481.62" y1="561.30" x2="481.62" y2="558.30" stroke="#686868" stroke-width="1"/>
<line x1="500.00" y1="561.30" x2="500.00" y2="558.30" stroke="#686868" stroke-width="1"/>
<line x1="518.38" y1="561.30" x2="518.38" y2="558.30" stroke="#686868" stroke-width="1"/>
<line x1="536.76" y1="561.30" x2="536.76" y2="558.30" stroke="#686868" stroke-width="1"/>
<line x1="555.14" y1="561.30" x2="555.14" y2="558.30" stroke="#686868" stroke-width="1"/>
<line x1="573.52" y1="561.30" x2="573.52" y2="558.30" stroke="#686868" stroke-width="1"/>
<line x1="591.90" y1="561.30" x2="591.90" y2="558.30" stroke="#686868" stroke-width="1"/>
<line x1="610.28" y1="561.30" x2="610.28" y2="558.30" stroke="#686868" stroke-width="1"/>
<line x1="628.66" y1="561.30" x2="628.66" y2="558.30" stroke="#686868" stroke-width="1"/>
<line x1="647.04" y1="561.30" x2="647.04" y2="558.30" stroke="#686868" stroke-width="1"/>
<line x1="665.42" y1="561.30" x2="665.42" y2="558.30" stroke="#686868" stroke-width="1"/>
<text x="413.90" y="572.40" font-size="9.2" fill="#262626" stroke="#262626" stroke-width="0.1" text-anchor="end" font-weight="normal" font-family='"Liberation Sans", sans-serif' transform="rotate(-45 413.90 572.40)">Conductivity</text>
<text x="432.28" y="572.40" font-size="9.2" fill="#262626" stroke="#262626" stroke-width="0.1" text-anchor="end" font-weight="normal" font-family='"Liberation Sans", sans-serif' transform="rotate(-45 432.28 572.40)">TDS</text>
<text x="450.66" y="572.40" font-size="9.2" fill="#262626" stroke="#262626" stroke-width="0.1" text-anchor="end" font-weight="normal" font-family='"Liberation Sans", sans-serif' transform="rotate(-45 450.66 572.40)">Cr (ppb)</text>
<text x="469.04" y="572.40" font-size="9.2" fill="#262626" stroke="#262626" stroke-width="0.1" text-anchor="end" font-weight="normal" font-family='"Liberation Sans", sans-serif' transform="rotate(-45 469.04 572.40)">Fe (ppb)</text>
<text x="487.42" y="572.40" font-size="9.2" fill="#262626" stroke="#262626" stroke-width="0.1" text-anchor="end" font-weight="normal" font-family='"Liberation Sans", sans-serif' transform="rotate(-45 487.42 572.40)">Ç.O.(%)</text>
<text x="505.80" y="572.40" font-size="9.2" fill="#262626" stroke="#262626" stroke-width="0.1" text-anchor="end" font-weight="normal" font-family='"Liberation Sans", sans-serif' transform="rotate(-45 505.80 572.40)">Ç.O.(Ppm)</text>
<text x="524.18" y="572.40" font-size="9.2" fill="#262626" stroke="#262626" stroke-width="0.1" text-anchor="end" font-weight="normal" font-family='"Liberation Sans", sans-serif' transform="rotate(-45 524.18 572.40)">Mn (ppb)</text>
<text x="542.56" y="572.40" font-size="9.2" fill="#262626" stroke="#262626" stroke-width="0.1" text-anchor="end" font-weight="normal" font-family='"Liberation Sans", sans-serif' transform="rotate(-45 542.56 572.40)">Ni (ppb)</text>
<text x="560.94" y="572.40" font-size="9.2" fill="#262626" stroke="#262626" stroke-width="0.1" text-anchor="end" font-weight="normal" font-family='"Liberation Sans", sans-serif' transform="rotate(-45 560.94 572.40)">pH</text>
<text x="579.32" y="572.40" font-size="9.2" fill="#262626" stroke="#262626" stroke-width="0.1" text-anchor="end" font-weight="normal" font-family='"Liberation Sans", sans-serif' transform="rotate(-45 579.32 572.40)">Temperature</text>
<text x="597.70" y="572.40" font-size="9.2" fill="#262626" stroke="#262626" stroke-width="0.1" text-anchor="end" font-weight="normal" font-family='"Liberation Sans", sans-serif' transform="rotate(-45 597.70 572.40)">Zn (ppb)</text>
<text x="616.08" y="572.40" font-size="9.2" fill="#262626" stroke="#262626" stroke-width="0.1" text-anchor="end" font-weight="normal" font-family='"Liberation Sans", sans-serif' transform="rotate(-45 616.08 572.40)">Orp1</text>
<text x="634.46" y="572.40" font-size="9.2" fill="#262626" stroke="#262626" stroke-width="0.1" text-anchor="end" font-weight="normal" font-family='"Liberation Sans", sans-serif' transform="rotate(-45 634.46 572.40)">Cu (ppb)</text>
<text x="652.84" y="572.40" font-size="9.2" fill="#262626" stroke="#262626" stroke-width="0.1" text-anchor="end" font-weight="normal" font-family='"Liberation Sans", sans-serif' transform="rotate(-45 652.84 572.40)">Pb (ppb)</text>
<text x="671.22" y="572.40" font-size="9.2" fill="#262626" stroke="#262626" stroke-width="0.1" text-anchor="end" font-weight="normal" font-family='"Liberation Sans", sans-serif' transform="rotate(-45 671.22 572.40)">Cd (ppb)</text>
<polyline points="408.10,561.30 408.10,554.99 426.48,554.99 426.48,561.30" fill="none" stroke="#6262ac" stroke-width="1.1"/>
<polyline points="417.29,554.99 417.29,467.14 444.86,467.14 444.86,561.30" fill="none" stroke="#6262ac" stroke-width="1.1"/>
<polyline points="431.08,467.14 431.08,463.72 463.24,463.72 463.24,561.30" fill="none" stroke="#6262ac" stroke-width="1.1"/>
<polyline points="481.62,561.30 481.62,542.15 500.00,542.15 500.00,561.30" fill="none" stroke="#6262ac" stroke-width="1.1"/>
<polyline points="490.81,542.15 490.81,494.75 518.38,494.75 518.38,561.30" fill="none" stroke="#6262ac" stroke-width="1.1"/>
<polyline points="504.60,494.75 504.60,473.35 536.76,473.35 536.76,561.30" fill="none" stroke="#6262ac" stroke-width="1.1"/>
<polyline points="447.16,463.72 447.16,431.51 520.68,431.51 520.68,473.35" fill="none" stroke="#6262ac" stroke-width="1.1"/>
<polyline points="573.52,561.30 573.52,490.25 591.90,490.25 591.90,561.30" fill="none" stroke="#6262ac" stroke-width="1.1"/>
<polyline points="555.14,561.30 555.14,460.72 582.71,460.72 582.71,490.25" fill="none" stroke="#6262ac" stroke-width="1.1"/>
<polyline points="610.28,561.30 610.28,521.17 628.66,521.17 628.66,561.30" fill="none" stroke="#6262ac" stroke-width="1.1"/>
<polyline points="619.47,521.17 619.47,466.18 647.04,466.18 647.04,561.30" fill="none" stroke="#6262ac" stroke-width="1.1"/>
<polyline points="633.25,466.18 633.25,456.55 665.42,456.55 665.42,561.30" fill="none" stroke="#6262ac" stroke-width="1.1"/>
<polyline points="568.92,460.72 568.92,398.02 649.34,398.02 649.34,456.55" fill="none" stroke="#6262ac" stroke-width="1.1"/>
<polyline points="483.92,431.51 483.92,370.41 609.13,370.41 609.13,398.02" fill="none" stroke="#6262ac" stroke-width="1.1"/>
<text x="536.80" y="357.20" font-size="10.0" fill="#000" text-anchor="middle" font-weight="bold" font-family='"Liberation Sans", sans-serif'>HCA Dendrogram</text>
<text x="536.80" y="621.20" font-size="10.0" fill="#262626" stroke="#262626" stroke-width="0.1" text-anchor="middle" font-weight="normal" font-family='"Liberation Sans", sans-serif'>Parameters</text>
<text x="370.60" y="460.70" font-size="9.9" fill="#262626" stroke="#262626" stroke-width="0.1" text-anchor="middle" font-weight="normal" font-family='"Liberation Sans", sans-serif' transform="rotate(-90 370.6 460.7)">Distance</text>
</g>
</g>
<text x="190.60" y="305.50" font-size="18" fill="#000" text-anchor="middle" font-weight="normal" font-family='"Liberation Serif", serif' stroke="#000" stroke-width="0.15">(a)</text>
<text x="552.00" y="306.00" font-size="18.5" fill="#000" text-anchor="middle" font-weight="normal" font-family='"Liberation Serif", serif' stroke="#000" stroke-width="0.15">(b)</text>
<text x="190.60" y="641.00" font-size="18" fill="#000" text-anchor="middle" font-weight="normal" font-family='"Liberation Serif", serif' stroke="#000" stroke-width="0.15">(c)</text>
<text x="551.80" y="641.00" font-size="18.3" fill="#000" text-anchor="middle" font-weight="normal" font-family='"Liberation Serif", serif' stroke="#000" stroke-width="0.15">(d)</text>
</svg>
</body></html>
